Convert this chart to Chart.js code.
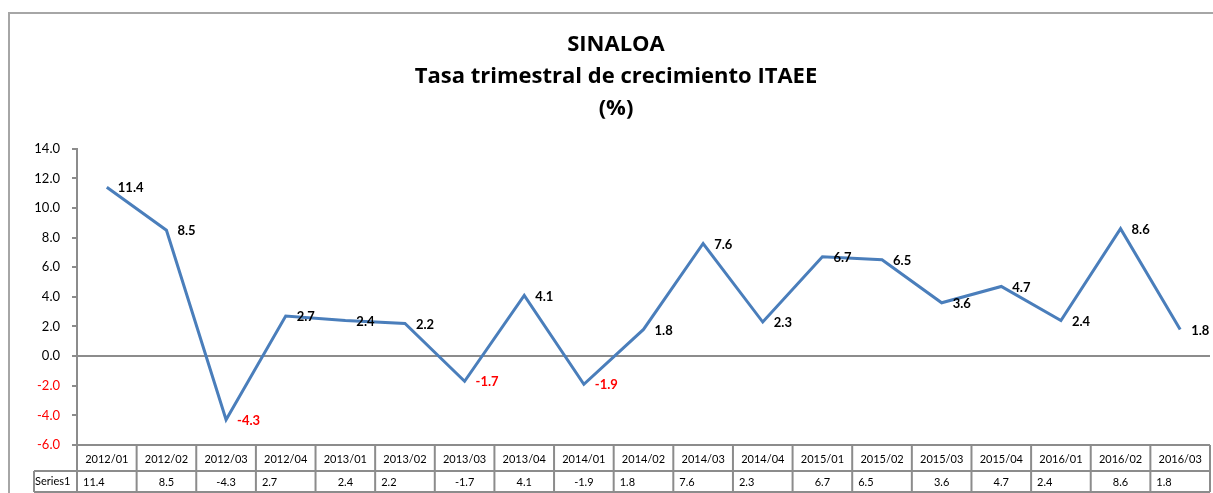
<!DOCTYPE html>
<html>
<head>
<meta charset="utf-8">
<script src="https://cdn.jsdelivr.net/npm/chart.js@4/dist/chart.umd.min.js"></script>
<style>
    html, body { margin: 0; padding: 0; background: #fff; }
    #wrap { position: relative; width: 1213px; height: 493px; overflow: hidden; }
    #frame { position: absolute; left: 8px; top: 12px; right: -4px; bottom: -4px;
             border-top: 2px solid #a6a6a6; border-left: 2px solid #a6a6a6; }
    canvas { position: absolute; left: 0; top: 0; }
</style>
</head>
<body>
<div id="wrap">
    <div id="frame"></div>
    <canvas id="chart" width="1213" height="493"></canvas>
</div>
<script>
// Data
const quarters = ["2012/01", "2012/02", "2012/03", "2012/04", "2013/01", "2013/02", "2013/03",
    "2013/04", "2014/01", "2014/02", "2014/03", "2014/04", "2015/01", "2015/02", "2015/03",
    "2015/04", "2016/01", "2016/02", "2016/03"];
const series1 = [11.4, 8.5, -4.3, 2.7, 2.4, 2.2, -1.7, 4.1, -1.9, 1.8, 7.6, 2.3, 6.7, 6.5, 3.6, 4.7, 2.4, 8.6, 1.8];
const seriesName = "Series1";
const titleLines = ["SINALOA", "Tasa trimestral de crecimiento ITAEE", "(%)"];
const yMin = -6, yMax = 14, yStep = 2;

// how the table cells happen to be aligned in the original (l = left, c = centre)
const cellAlign = "lcclclccclllclcclcl";

const FONT = "Lato, 'Liberation Sans', sans-serif";
const TITLE_FONT = "'Open Sans', Lato, sans-serif";
const GRAY = "#8c8c8c";

// data labels next to each point
const pointLabels = {
    id: "pointLabels",
    afterDatasetsDraw(chart) {
        const ctx = chart.ctx;
        const meta = chart.getDatasetMeta(0);
        ctx.save();
        ctx.font = "bold 13px " + FONT;
        ctx.textAlign = "left";
        ctx.textBaseline = "middle";
        meta.data.forEach((pt, i) => {
            const v = series1[i];
            ctx.fillStyle = v < 0 ? "#ff0000" : "#000000";
            ctx.fillText(v.toFixed(1), pt.x + 11, pt.y + 1);
        });
        ctx.restore();
    }
};

// data table under the plot
const dataTable = {
    id: "dataTable",
    afterDraw(chart) {
        const ctx = chart.ctx;
        const xs = chart.scales.x;
        const area = chart.chartArea;
        const n = quarters.length;
        const half = (xs.getPixelForValue(1) - xs.getPixelForValue(0)) / 2;
        const left = xs.getPixelForValue(0) - half;
        const right = xs.getPixelForValue(n - 1) + half;
        const r1 = area.bottom, r2 = area.bottom + 26, r3 = area.bottom + 47;
        const nameLeft = 34;

        ctx.save();
        ctx.strokeStyle = GRAY;
        ctx.lineWidth = 2;
        ctx.beginPath();
        ctx.moveTo(left, r1); ctx.lineTo(right, r1);
        ctx.moveTo(nameLeft, r2); ctx.lineTo(right, r2);
        ctx.moveTo(nameLeft, r3); ctx.lineTo(right, r3);
        ctx.moveTo(nameLeft, r2); ctx.lineTo(nameLeft, r3);
        for (let i = 0; i <= n; i++) {
            const x = i < n ? xs.getPixelForValue(i) - half : right;
            ctx.moveTo(x, r1); ctx.lineTo(x, r3);
        }
        ctx.stroke();

        ctx.fillStyle = "#000";
        ctx.font = "11px " + FONT;
        ctx.textBaseline = "middle";
        ctx.textAlign = "left";
        ctx.fillText(seriesName, nameLeft + 1, (r2 + r3) / 2);
        quarters.forEach((q, i) => {
            const cx = xs.getPixelForValue(i);
            ctx.textAlign = "center";
            ctx.fillText(q, cx, (r1 + r2) / 2 + 1);
            const txt = series1[i].toFixed(1);
            if (cellAlign[i] === "l") {
                ctx.textAlign = "left";
                ctx.fillText(txt, cx - half + 6, (r2 + r3) / 2 + 1);
            } else {
                ctx.textAlign = "center";
                ctx.fillText(txt, cx, (r2 + r3) / 2 + 1);
            }
        });
        ctx.restore();
    }
};

new Chart(document.getElementById("chart"), {
    type: "line",
    data: {
        labels: quarters,
        datasets: [{
            label: seriesName,
            data: series1,
            borderColor: "#4a7ebb",
            borderWidth: 3,
            pointRadius: 0,
            tension: 0,
            clip: false
        }]
    },
    options: {
        responsive: false,
        animation: false,
        layout: { padding: { top: 12, left: 22, right: 3, bottom: 48 } },
        plugins: {
            legend: { display: false },
            tooltip: { enabled: false },
            title: {
                display: true,
                text: titleLines,
                color: "#000",
                font: { family: TITLE_FONT, size: 22, weight: "bold", lineHeight: 1.45 },
                padding: { top: 17, bottom: 24 }
            }
        },
        scales: {
            x: {
                type: "category",
                offset: true,
                display: false
            },
            y: {
                min: yMin,
                max: yMax,
                afterFit(scale) { scale.width = 55; },
                ticks: {
                    stepSize: yStep,
                    padding: 12,
                    font: { family: FONT, size: 13 },
                    color: (c) => c.tick.value < 0 ? "#ff0000" : "#000000",
                    callback: (v) => Number(v).toFixed(1)
                },
                grid: {
                    color: (c) => c.tick && c.tick.value === 0 ? GRAY : "rgba(0,0,0,0)",
                    lineWidth: 2,
                    tickColor: GRAY,
                    tickLength: 5,
                    drawTicks: true
                },
                border: { display: true, color: GRAY, width: 2 }
            }
        }
    },
    plugins: [pointLabels, dataTable]
});
</script>
</body>
</html>
